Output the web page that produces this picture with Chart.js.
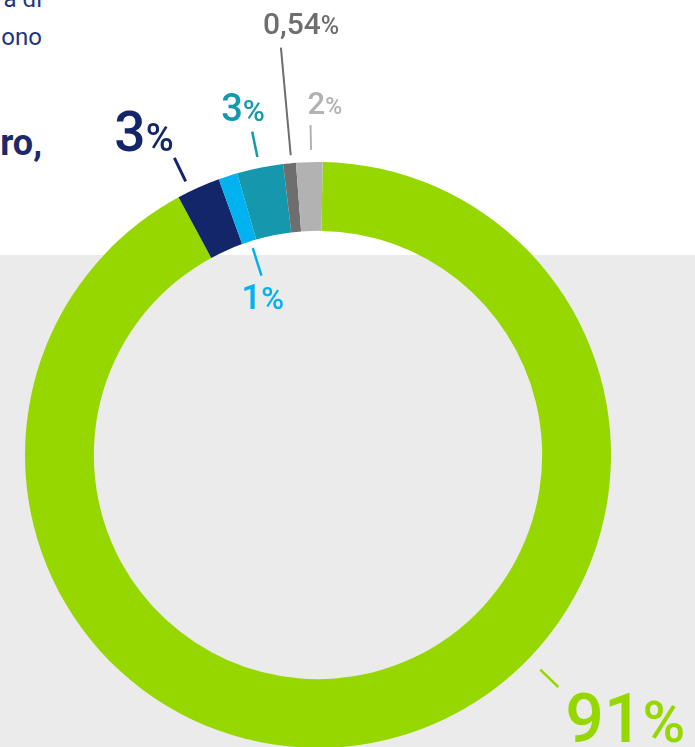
<!DOCTYPE html>
<html>
<head>
<meta charset="utf-8">
<script src="https://cdn.jsdelivr.net/npm/chart.js@4.4.0/dist/chart.umd.min.js"></script>
<style>
  html, body { margin: 0; padding: 0; width: 695px; height: 747px; overflow: hidden; background: #fff; }
  #band { position: absolute; left: 0; top: 255px; width: 695px; height: 492px; background: #ebebeb; }
  #chart { position: absolute; left: 0; top: 0; }
  .frag { position: absolute; right: 653px; white-space: nowrap; color: #1f3682; font-family: Roboto, sans-serif; }
</style>
</head>
<body>
<div class="frag" style="top:-13px;font-size:24px;line-height:24px;">a di</div>
<div class="frag" style="top:25px;font-size:24px;line-height:24px;">ono</div>
<div class="frag" style="top:125px;font-size:36px;line-height:36px;font-weight:700;color:#1b2a6b;">ro,</div>
<div id="band"></div>
<canvas id="chart" width="695" height="760"></canvas>
<script>
// segment values, clockwise from the top
const shares = [91.9, 2.4, 1.05, 2.55, 0.7, 1.45];
const labelNumbers = ['91', '3', '1', '3', '0,54', '2'];
const sliceColors = ['#97d700', '#13266a', '#00b3f0', '#1598ae', '#6e6e6e', '#b2b2b2'];

// label layout (degrees from top, offsets from the outer radius, text offsets from the line end)
const leaderAngle = [134, -25.8, -17.5, -11.5, -5.2, -1.3];
const leaderFrom = [16, 11, -76, 11, 8, 12];
const leaderTo = [41, 37, -105, 37, 116, 37];
const leaderWidth = [2.5, 3, 2.5, 2.5, 2, 2];
const textDx = [7, -60, -20, -31, -18, -3];
const textDy = [55, -7, 33, -11, -14, -11];
const numSize = [68, 55, 35, 38, 30, 31];
const pctSize = [58, 38, 31, 30, 25, 23];

const leaderLabels = {
  id: 'leaderLabels',
  afterDatasetsDraw(chart) {
    const ctx = chart.ctx;
    const arcs = chart.getDatasetMeta(0).data;
    arcs.forEach((arc, i) => {
      const R = arc.outerRadius;
      const a = leaderAngle[i] * Math.PI / 180;
      const sx = Math.sin(a), sy = -Math.cos(a);
      const x1 = arc.x + sx * (R + leaderFrom[i]), y1 = arc.y + sy * (R + leaderFrom[i]);
      const x2 = arc.x + sx * (R + leaderTo[i]), y2 = arc.y + sy * (R + leaderTo[i]);
      ctx.save();
      ctx.strokeStyle = sliceColors[i];
      ctx.lineWidth = leaderWidth[i];
      ctx.beginPath();
      ctx.moveTo(x1, y1);
      ctx.lineTo(x2, y2);
      ctx.stroke();

      ctx.fillStyle = sliceColors[i];
      ctx.textAlign = 'left';
      ctx.textBaseline = 'alphabetic';
      const tx = x2 + textDx[i], ty = y2 + textDy[i];
      ctx.font = '500 ' + numSize[i] + 'px Roboto';
      const w = ctx.measureText(labelNumbers[i]).width;
      ctx.fillText(labelNumbers[i], tx, ty);
      ctx.font = '500 ' + pctSize[i] + 'px Roboto';
      ctx.fillText('%', tx + w, ty);
      ctx.restore();
    });
  }
};

new Chart(document.getElementById('chart').getContext('2d'), {
  type: 'doughnut',
  data: {
    labels: labelNumbers,
    datasets: [{
      data: shares,
      backgroundColor: sliceColors,
      borderWidth: 0
    }]
  },
  options: {
    responsive: false,
    animation: false,
    rotation: 0.9,
    cutout: '76.5%',
    layout: { padding: { left: 25, right: 84, top: 162, bottom: 12 } },
    plugins: { legend: { display: false }, tooltip: { enabled: false } }
  },
  plugins: [leaderLabels]
});
</script>
</body>
</html>
